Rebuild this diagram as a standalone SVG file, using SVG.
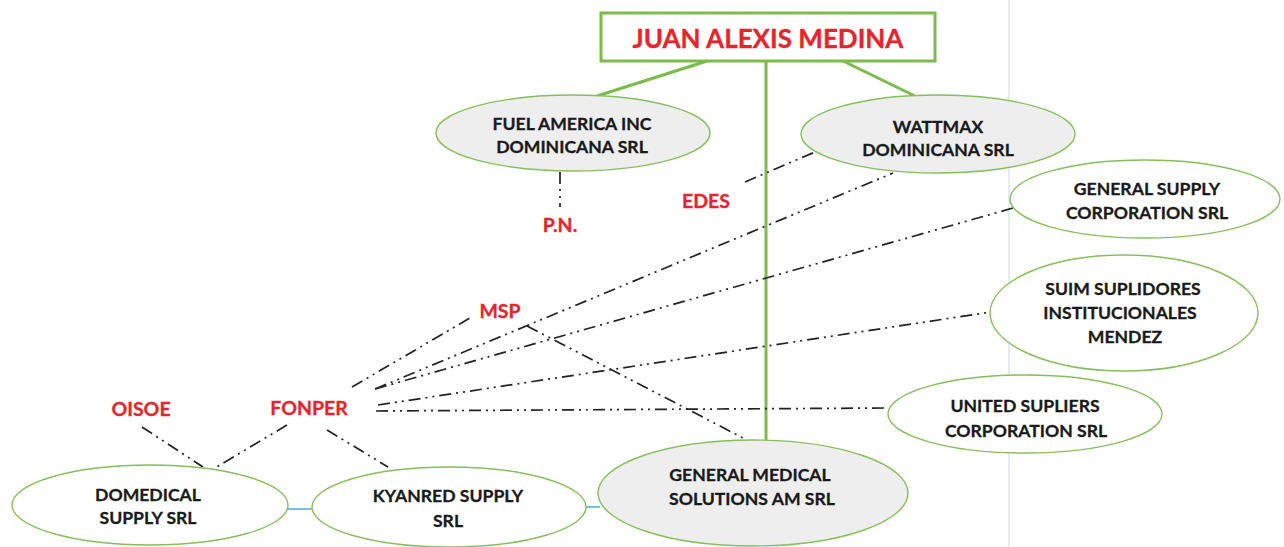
<svg xmlns="http://www.w3.org/2000/svg" width="1284" height="547" viewBox="0 0 1284 547">
<style>
.bg{fill:#ffffff}
.ell{stroke:#86bf5a;stroke-width:1.4}
.gray{fill:#eeeeef}
.white{fill:#ffffff}
.t{font-family:Lato,"Open Sans","Liberation Sans",sans-serif;font-weight:bold;font-size:17.6px;fill:#1a1a1a;stroke:#1a1a1a;stroke-width:0.3;text-anchor:middle}
.r{font-family:Lato,"Open Sans","Liberation Sans",sans-serif;font-weight:bold;font-size:19.5px;fill:#e8232b;stroke:#e8232b;stroke-width:0.3;text-anchor:middle}
.g{stroke:#7cbb4a;stroke-width:3;fill:none}
.dd{stroke:#222222;stroke-width:1.7;fill:none;stroke-dasharray:12 5 2 5 2 5}
.b{stroke:#4aa8e0;stroke-width:1.5;fill:none}
</style>
<rect class="bg" x="0" y="0" width="1284" height="547"/>
<line x1="1009" y1="0" x2="1009" y2="547" stroke="#c4d8e2" stroke-width="1"/>
<g id="connectors">
<line class="g" x1="707" y1="61" x2="597" y2="96"/>
<line class="g" x1="766" y1="62" x2="766" y2="440"/>
<line class="g" x1="843" y1="61" x2="915" y2="96"/>
<line class="dd" x1="560" y1="172" x2="560" y2="207"/>
<line class="dd" x1="745" y1="182" x2="815" y2="152"/>
<line class="dd" x1="352" y1="387" x2="470" y2="318"/>
<line class="dd" x1="375" y1="389" x2="893" y2="173"/>
<line class="dd" x1="527" y1="326" x2="745" y2="439"/>
<line class="dd" x1="375" y1="389" x2="1013" y2="208"/>
<line class="dd" x1="378" y1="405" x2="991" y2="312"/>
<line class="dd" x1="376" y1="411" x2="888" y2="408"/>
<line class="dd" x1="142" y1="427" x2="203" y2="467"/>
<line class="dd" x1="287" y1="425" x2="215" y2="468"/>
<line class="dd" x1="327" y1="430" x2="388" y2="467"/>
<line class="b" x1="287" y1="509" x2="312" y2="509"/>
<line class="b" x1="586" y1="507" x2="600" y2="507"/>
</g>
<g id="juan">
<rect x="601" y="13" width="334" height="48" fill="#ffffff" stroke="#7cbb4a" stroke-width="3"/>
<text class="r" x="768" y="48" style="font-size:26px">JUAN ALEXIS MEDINA</text>
</g>
<g id="fuel">
<ellipse class="ell gray" cx="573" cy="133" rx="137" ry="38"/>
<text class="t" x="572" y="130">FUEL AMERICA INC</text>
<text class="t" x="572" y="153">DOMINICANA SRL</text>
</g>
<g id="wattmax">
<ellipse class="ell gray" cx="938" cy="134" rx="137" ry="39"/>
<text class="t" x="938" y="133">WATTMAX</text>
<text class="t" x="938" y="156">DOMINICANA SRL</text>
</g>
<g id="general-supply">
<ellipse class="ell white" cx="1145" cy="199" rx="135" ry="39"/>
<text class="t" x="1147" y="195">GENERAL SUPPLY</text>
<text class="t" x="1147" y="219">CORPORATION SRL</text>
</g>
<g id="suim">
<ellipse class="ell white" cx="1124" cy="313" rx="134" ry="58"/>
<text class="t" x="1123" y="295">SUIM SUPLIDORES</text>
<text class="t" x="1120" y="319">INSTITUCIONALES</text>
<text class="t" x="1125" y="343">MENDEZ</text>
</g>
<g id="united">
<ellipse class="ell white" cx="1025" cy="414" rx="137" ry="39"/>
<text class="t" x="1025" y="412">UNITED SUPLIERS</text>
<text class="t" x="1026" y="437">CORPORATION SRL</text>
</g>
<g id="domedical">
<ellipse class="ell white" cx="150" cy="505" rx="138" ry="40"/>
<text class="t" x="148" y="501">DOMEDICAL</text>
<text class="t" x="148" y="524">SUPPLY SRL</text>
</g>
<g id="kyanred">
<ellipse class="ell white" cx="449" cy="507" rx="137" ry="40"/>
<text class="t" x="448" y="502">KYANRED SUPPLY</text>
<text class="t" x="448" y="527">SRL</text>
</g>
<g id="gms">
<ellipse class="ell gray" cx="753" cy="493" rx="155" ry="53"/>
<text class="t" x="750" y="481">GENERAL MEDICAL</text>
<text class="t" x="752" y="505">SOLUTIONS AM SRL</text>
</g>
<g id="pn"><text class="r" x="560" y="232">P.N.</text></g>
<g id="edes"><text class="r" x="706" y="208">EDES</text></g>
<g id="msp"><text class="r" x="500" y="318">MSP</text></g>
<g id="fonper"><text class="r" x="309" y="415">FONPER</text></g>
<g id="oisoe"><text class="r" x="141" y="416">OISOE</text></g>
</svg>
